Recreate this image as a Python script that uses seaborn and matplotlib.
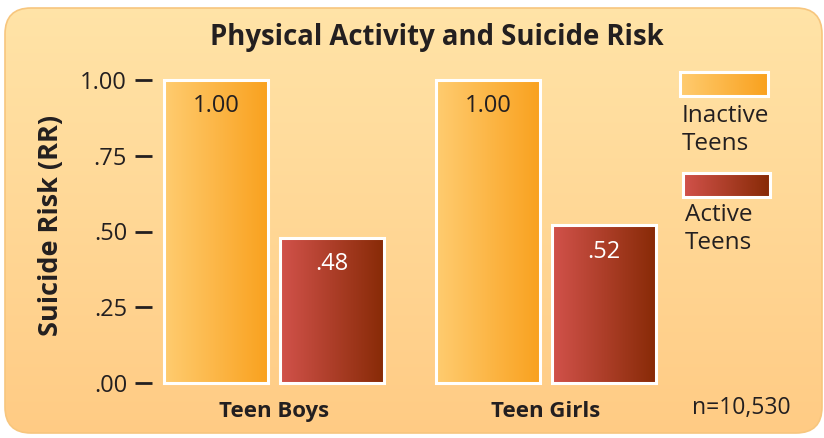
import numpy as np
import pandas as pd
import matplotlib.pyplot as plt
import seaborn as sns
from matplotlib.patches import FancyBboxPatch, Rectangle
from matplotlib.colors import LinearSegmentedColormap

# chart data
groups = ["Teen Boys", "Teen Girls"]
statuses = ["Inactive Teens", "Active Teens"]
risk_inactive = [1.00, 1.00]
risk_active = [0.48, 0.52]
labels_inactive = ["1.00", "1.00"]
labels_active = [".48", ".52"]
y_ticks = [0.0, 0.25, 0.50, 0.75, 1.00]
y_tick_labels = [".00", ".25", ".50", ".75", "1.00"]
legend_lines = ["Inactive\nTeens", "Active\nTeens"]
title = "Physical Activity and Suicide Risk"
sample_note = "n=10,530"

INK = "#231F20"
inactive_cmap = LinearSegmentedColormap.from_list("inactive", ["#FFCC70", "#F9A11E"])
active_cmap = LinearSegmentedColormap.from_list("active", ["#D2524B", "#872A06"])
bg_cmap = LinearSegmentedColormap.from_list("bg", ["#FFE4A8", "#FFCB84"])

df = pd.DataFrame({
    "group": groups * 2,
    "status": [statuses[0]] * 2 + [statuses[1]] * 2,
    "risk": risk_inactive + risk_active,
})

sns.set_theme(style="white")
plt.rcParams["font.family"] = ["Open Sans", "DejaVu Sans"]

W, H = 824, 438
fig = plt.figure(figsize=(W / 100, H / 100), dpi=100)
fig.patch.set_facecolor("white")

# rounded gradient panel behind everything (pixel coords)
bg = fig.add_axes([0, 0, 1, 1], zorder=0)
panel = FancyBboxPatch((5, 8), 817, 425, boxstyle="round,pad=0,rounding_size=26",
                       fc="none", ec="#F7C67E", lw=1.2, zorder=2)
bg.add_patch(panel)
im = bg.imshow(np.linspace(0, 1, 256).reshape(-1, 1), cmap=bg_cmap,
               extent=[0, W, H, 0], aspect="auto", zorder=1)
im.set_clip_path(panel)

hgrad = np.linspace(0, 1, 256).reshape(1, -1)

# legend swatches
legend_boxes = [(680, 72, 88, 24), (683, 173, 87, 24)]
legend_text_y = [130, 229]
for (x0, y0, w, h), cmap, txt, ty in zip(legend_boxes, [inactive_cmap, active_cmap],
                                         legend_lines, legend_text_y):
    bg.imshow(hgrad, cmap=cmap, extent=[x0, x0 + w, y0 + h, y0], aspect="auto", zorder=3)
    bg.add_patch(Rectangle((x0, y0), w, h, fc="none", ec="white", lw=2.2, zorder=4))
    bg.text(x0 + 2, ty, txt, ha="left", va="center", fontsize=17.5, color=INK,
            linespacing=1.25, zorder=5)
bg.set_xlim(0, W)
bg.set_ylim(H, 0)
bg.axis("off")

# main bar axes
ax = fig.add_axes([152 / W, (H - 383) / H, (664 - 152) / W, 303 / H], zorder=1)
ax.patch.set_alpha(0)
sns.barplot(df, x="group", y="risk", hue="status", order=groups, hue_order=statuses,
            palette=["#F9A11E", "#872A06"], saturation=1, width=0.853, gap=0.103,
            legend=False, ax=ax)

for container, cmap, labels, tcolor in zip(ax.containers, [inactive_cmap, active_cmap],
                                           [labels_inactive, labels_active], [INK, "white"]):
    for bar, lab in zip(container, labels):
        x0, y0 = bar.get_xy()
        w, h = bar.get_width(), bar.get_height()
        ax.imshow(hgrad, cmap=cmap, extent=[x0, x0 + w, y0, y0 + h],
                  aspect="auto", zorder=2)
        bar.set_facecolor("none")
        bar.set_edgecolor("white")
        bar.set_linewidth(2.2)
        bar.set_zorder(3)
        bar.set_clip_on(False)
        ax.annotate(lab, (x0 + w / 2, y0 + h), xytext=(0, -19), textcoords="offset points",
                    ha="center", va="center", fontsize=17, color=tcolor, zorder=4)

ax.set_xlim(-122 / 272, 390 / 272)
ax.set_ylim(0, 1)
sns.despine(ax=ax, left=True, bottom=True)

ax.set_yticks(y_ticks, y_tick_labels)
ax.tick_params(axis="y", left=True, length=12, width=2, color=INK, pad=6,
               labelsize=17, labelcolor=INK)
ax.tick_params(axis="x", bottom=False, pad=7, labelsize=16, labelcolor=INK)
for t in ax.get_xticklabels():
    t.set_fontweight("bold")
ax.set_xlabel("")
ax.set_ylabel("Suicide Risk (RR)", fontsize=19.5, fontweight="bold", color=INK)
ax.yaxis.set_label_coords(-0.172, 0.52)

fig.text(437 / W, 1 - 38 / H, title, ha="center", va="center", fontsize=19.8,
         fontweight="bold", color=INK)
fig.text(741 / W, 1 - 408 / H, sample_note, ha="center", va="center", fontsize=16.5,
         color=INK)

fig.savefig("out.png", dpi=100)
